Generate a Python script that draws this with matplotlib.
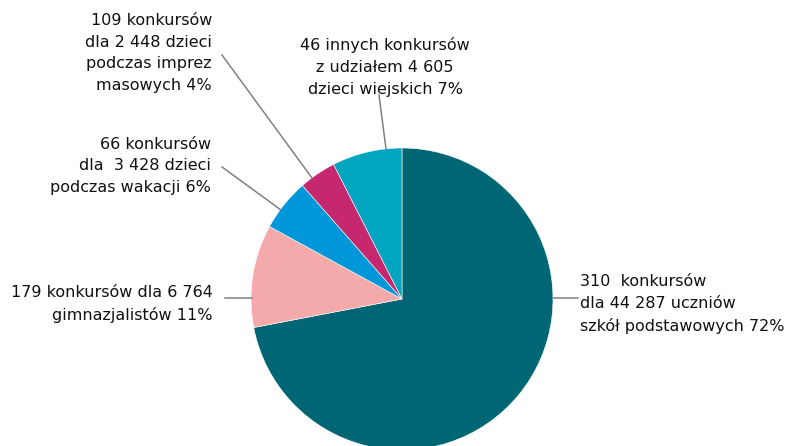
import numpy as np
import matplotlib.pyplot as plt

# liczba dzieci w poszczegolnych grupach konkursow
values = [44287, 6764, 3428, 2448, 4605]
colors = ['#006673', '#f4a9aa', '#0096da', '#c6286f', '#00a5bf']
labels = ['310  konkursów\ndla 44 287 uczniów\nszkół podstawowych 72%',
          '179 konkursów dla 6 764\ngimnazjalistów 11%',
          '66 konkursów\ndla  3 428 dzieci\npodczas wakacji 6%',
          '109 konkursów\ndla 2 448 dzieci\npodczas imprez\nmasowych 4%',
          '46 innych konkursów\nz udziałem 4 605\ndzieci wiejskich 7%']

H = 446
fig = plt.figure(figsize=(7.9, 4.46), dpi=100)
ax = fig.add_axes([0, 0, 1, 1])
ax.pie(values, colors=colors, startangle=90, counterclock=False,
       center=(402, H - 299), radius=151,
       wedgeprops=dict(edgecolor='white', linewidth=0.4))
ax.set_xlim(0, 790)
ax.set_ylim(0, H)
ax.set_aspect('equal')
ax.axis('off')

# linie odniesienia (piksele, y od gory)
lines = [((553, 298), (578, 298)),
         ((225, 298), (252, 298)),
         ((222, 167), (281, 210)),
         ((222, 55), (312, 178)),
         ((379, 95), (386, 149))]
for (x1, y1), (x2, y2) in lines:
    ax.plot([x1, x2], [H - y1, H - y2], color='#808080', lw=1.1)

fs = 11.5
kw = dict(fontsize=fs, linespacing=1.55, color='#111111')
ax.text(580, H - 304, labels[0], ha='left', va='center', **kw)
ax.text(213, H - 304, labels[1], ha='right', va='center', **kw)
ax.text(211, H - 166, labels[2], ha='right', va='center', **kw)
ax.text(212, H - 53, labels[3], ha='right', va='center', **kw)
ax.text(385, H - 67, labels[4], ha='center', va='center', **kw)

fig.savefig('out.png', dpi=100)
